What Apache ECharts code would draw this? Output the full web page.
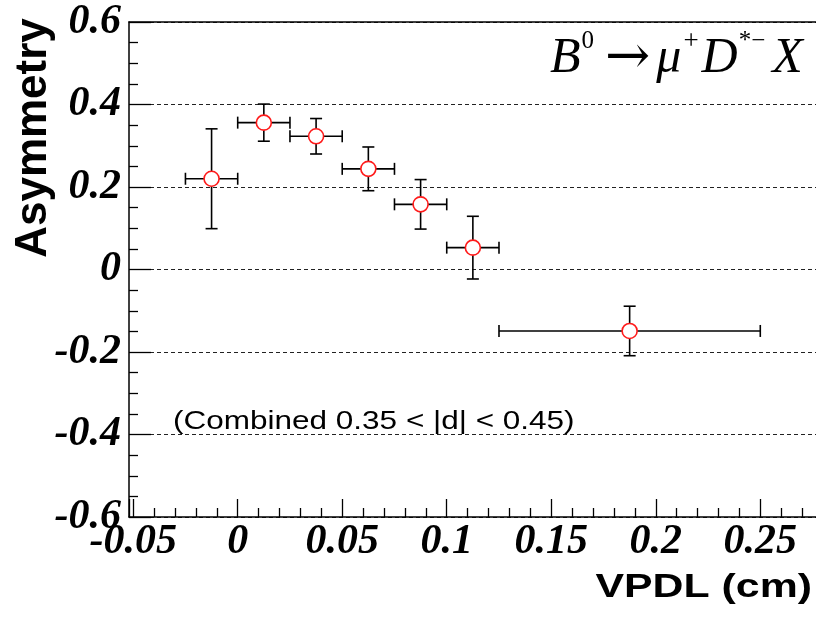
<!DOCTYPE html>
<html><head><meta charset="utf-8">
<script src="https://cdn.jsdelivr.net/npm/echarts@6/dist/echarts.min.js"></script>
<style>html,body{margin:0;padding:0;background:#fff}#c{width:816px;height:619px}</style>
</head><body><div id="c"></div>
<script>
// VPDL bins (cm)
const binLow  = [-0.025, 0.0,    0.025,  0.05,   0.075,  0.1,    0.125];
const binHigh = [ 0.0,   0.025,  0.05,   0.075,  0.1,    0.125,  0.25];
const vpdl    = [-0.0125, 0.0125, 0.0375, 0.0625, 0.0875, 0.1125, 0.1875];
// Asymmetry and its error
const asym    = [0.220, 0.356, 0.323, 0.244, 0.158, 0.053, -0.149];
const asymErr = [0.121, 0.045, 0.043, 0.053, 0.060, 0.076, 0.060];
// Axes
const xMin = -0.052, xMax = 0.28;
const yMin = -0.6, yMax = 0.6, yStep = 0.2;

const chart = echarts.init(document.getElementById('c'), null, {renderer: 'canvas'});
const errData = vpdl.map((x, i) => [x, asym[i], binLow[i], binHigh[i], asym[i] - asymErr[i], asym[i] + asymErr[i]]);
const ptData = vpdl.map((x, i) => [x, asym[i]]);

const numFont = {fontFamily: 'Liberation Serif', fontStyle: 'italic', fontWeight: 'bold', color: '#000'};
const black = '#000';

const option = {
  animation: false,
  backgroundColor: '#fff',
  grid: {left: 129, top: 22, right: -7, bottom: 102, containLabel: false, outerBoundsMode: 'none'},
  xAxis: [{
    type: 'value', min: xMin, max: xMax, position: 'bottom',
    axisLine: {show: true, onZero: false, lineStyle: {color: black, width: 1.5}},
    axisTick: {show: true, inside: true, length: 18, lineStyle: {color: black, width: 1.3}},
    minorTick: {show: true, splitNumber: 5, length: 9, lineStyle: {color: black, width: 1.3}},
    axisLabel: Object.assign({showMinLabel: false, showMaxLabel: false, fontSize: 42, margin: 4}, numFont),
    splitLine: {show: false}
  }, {
    type: 'value', min: xMin, max: xMax, position: 'top',
    axisLine: {show: true, onZero: false, lineStyle: {color: black, width: 1.5}},
    axisTick: {show: false}, axisLabel: {show: false}, splitLine: {show: false}
  }],
  yAxis: [{
    type: 'value', min: yMin, max: yMax, interval: yStep, position: 'left',
    axisLine: {show: true, onZero: false, lineStyle: {color: black, width: 1.5}},
    axisTick: {show: true, inside: true, length: 22, lineStyle: {color: black, width: 1.3}},
    minorTick: {show: true, splitNumber: 4, length: 9, lineStyle: {color: black, width: 1.3}},
    axisLabel: Object.assign({fontSize: 42, margin: 8, padding: [10, 0, 0, 0],
      formatter: v => (Math.abs(v) < 1e-9 ? '0' : String(Math.round(v * 10) / 10))}, numFont),
    splitLine: {show: true, lineStyle: {color: '#222', width: 1, type: [4, 3]}}
  }],
  series: [{
    type: 'custom',
    data: errData,
    encode: {x: 0, y: 1},
    z: 2,
    renderItem: function (params, api) {
      const c = api.coord([api.value(0), api.value(1)]);
      const l = api.coord([api.value(2), api.value(1)]);
      const r = api.coord([api.value(3), api.value(1)]);
      const b = api.coord([api.value(0), api.value(4)]);
      const t = api.coord([api.value(0), api.value(5)]);
      const cap = 6;
      const st = {stroke: '#000', lineWidth: 1.6};
      const ln = (x1, y1, x2, y2) => ({type: 'line', shape: {x1, y1, x2, y2}, style: st});
      return {type: 'group', children: [
        ln(l[0], l[1], r[0], r[1]),
        ln(c[0], b[1], c[0], t[1]),
        ln(l[0], l[1] - cap, l[0], l[1] + cap),
        ln(r[0], r[1] - cap, r[0], r[1] + cap),
        ln(c[0] - cap, t[1], c[0] + cap, t[1]),
        ln(c[0] - cap, b[1], c[0] + cap, b[1])
      ]};
    }
  }, {
    type: 'scatter',
    data: ptData,
    z: 5,
    symbol: 'circle',
    symbolSize: 15,
    itemStyle: {color: '#fff', borderColor: '#ff1a1a', borderWidth: 1.6, opacity: 1}
  }],
  graphic: [{
    type: 'text', x: 34, y: 138, rotation: Math.PI / 2,
    style: {text: 'Asymmetry', fontFamily: 'Liberation Sans', fontWeight: 'bold', fontSize: 44, fill: '#000', align: 'center', verticalAlign: 'middle'}
  }, {
    type: 'text', x: 812, y: 588, scaleX: 1.26,
    style: {text: 'VPDL (cm)', fontFamily: 'Liberation Sans', fontWeight: 'bold', fontSize: 34, fill: '#000', align: 'right', verticalAlign: 'middle'}
  }, {
    type: 'text', x: 173, y: 422, scaleX: 1.26,
    style: {text: '(Combined 0.35 < |d| < 0.45)', fontFamily: 'Liberation Sans', fontSize: 25, fill: '#000', align: 'left', verticalAlign: 'middle'}
  }, {
    type: 'text', x: 550, y: 59,
    style: {
      text: '{i|B}{s|0}{n|→}{i|μ}{p|+}{i|D}{s|*−}{x|X}',
      align: 'left', verticalAlign: 'middle', fill: '#000',
      rich: {
        i: {fontFamily: 'Liberation Serif', fontStyle: 'italic', fontSize: 50, lineHeight: 66, verticalAlign: 'middle', color: '#000'},
        x: {fontFamily: 'Liberation Serif', fontStyle: 'italic', fontSize: 50, lineHeight: 66, verticalAlign: 'middle', padding: [0, 0, 0, 4], color: '#000'},
        n: {fontFamily: 'DejaVu Serif', fontSize: 54, lineHeight: 66, verticalAlign: 'middle', padding: [0, 6, 0, 8], color: '#000'},
        s: {fontFamily: 'Liberation Serif', fontSize: 25, lineHeight: 25, verticalAlign: 'top', padding: [3, 3, 0, 1], color: '#000'},
        p: {fontFamily: 'Liberation Serif', fontSize: 27, lineHeight: 27, verticalAlign: 'top', padding: [2, 3, 0, 2], color: '#000'}
      }
    }
  }]
};
chart.setOption(option);
</script>
</body></html>
